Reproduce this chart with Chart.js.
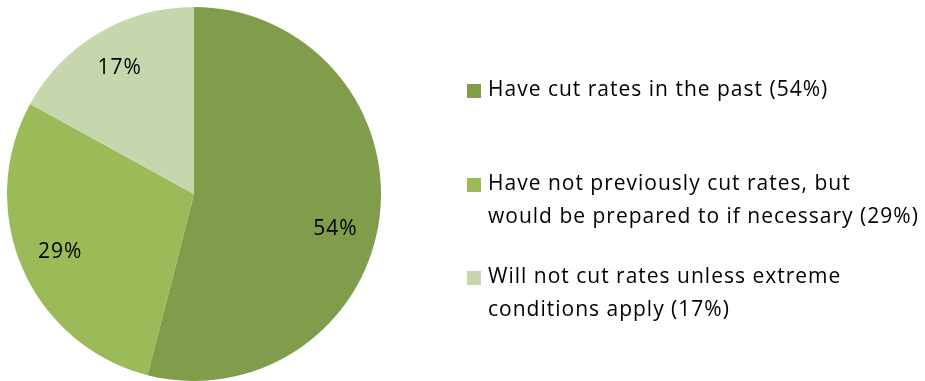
<!DOCTYPE html>
<html>
<head>
<meta charset="utf-8">
<title>Rate cuts</title>
<script src="https://cdn.jsdelivr.net/npm/chart.js@4/dist/chart.umd.min.js"></script>
<style>
  html, body { margin: 0; padding: 0; background: #fff; }
  #wrap { width: 925px; height: 381px; position: relative; }
</style>
</head>
<body>
<div id="wrap"><canvas id="pieChart" width="925" height="381"></canvas></div>
<script>
const labels = [
    "Have cut rates in the past (54%)",
    "Have not previously cut rates, but would be prepared to if necessary (29%)",
    "Will not cut rates unless extreme conditions apply (17%)"
];
// legend text broken into the lines it is drawn on
const legendLines = [
    ["Have cut rates in the past (54%)"],
    ["Have not previously cut rates, but", "would be prepared to if necessary (29%)"],
    ["Will not cut rates unless extreme", "conditions apply (17%)"]
];
const shares = [54, 29, 17];
const colors = ["#809D4B", "#9BBB59", "#C6D7AD"];

const FONT = "21px 'Open Sans', Lato, sans-serif";

function setFont(ctx) {
    ctx.font = FONT;
    ctx.letterSpacing = '1px';
}

// percentage inside each slice
const sliceLabels = {
    id: 'sliceLabels',
    afterDatasetsDraw(chart) {
        const ctx = chart.ctx;
        const meta = chart.getDatasetMeta(0);
        ctx.save();
        setFont(ctx);
        ctx.fillStyle = '#000';
        ctx.textAlign = 'center';
        ctx.textBaseline = 'middle';
        meta.data.forEach((arc, i) => {
            const p = arc.getProps(['x', 'y', 'startAngle', 'endAngle', 'outerRadius'], true);
            // the big slice keeps its label a little below the bisector
            const mid = (p.startAngle + p.endAngle) / 2 + (i === 0 ? 0.12 : 0);
            const r = p.outerRadius * 0.78;
            ctx.fillText(shares[i] + '%', p.x + Math.cos(mid) * r, p.y + Math.sin(mid) * r);
        });
        ctx.restore();
    }
};

// legend on the right, wrapped over two lines where needed
const sideLegend = {
    id: 'sideLegend',
    afterDraw(chart) {
        const ctx = chart.ctx;
        const bg = chart.data.datasets[0].backgroundColor;
        const tops = [96, 190, 283];
        ctx.save();
        setFont(ctx);
        ctx.textBaseline = 'alphabetic';
        legendLines.forEach((lines, i) => {
            ctx.fillStyle = bg[i];
            ctx.fillRect(467, tops[i] - 12, 14, 14);
            ctx.fillStyle = '#000';
            lines.forEach((t, j) => ctx.fillText(t, 488, tops[i] + j * 33));
        });
        ctx.restore();
    }
};

new Chart(document.getElementById('pieChart'), {
    type: 'pie',
    data: {
        labels: labels,
        datasets: [{
            data: shares,
            backgroundColor: colors,
            borderWidth: 0
        }]
    },
    options: {
        responsive: false,
        animation: false,
        layout: { padding: { left: 7, right: 544, top: 7, bottom: 0 } },
        plugins: {
            legend: { display: false },
            tooltip: { enabled: false }
        }
    },
    plugins: [sliceLabels, sideLegend]
});
</script>
</body>
</html>
